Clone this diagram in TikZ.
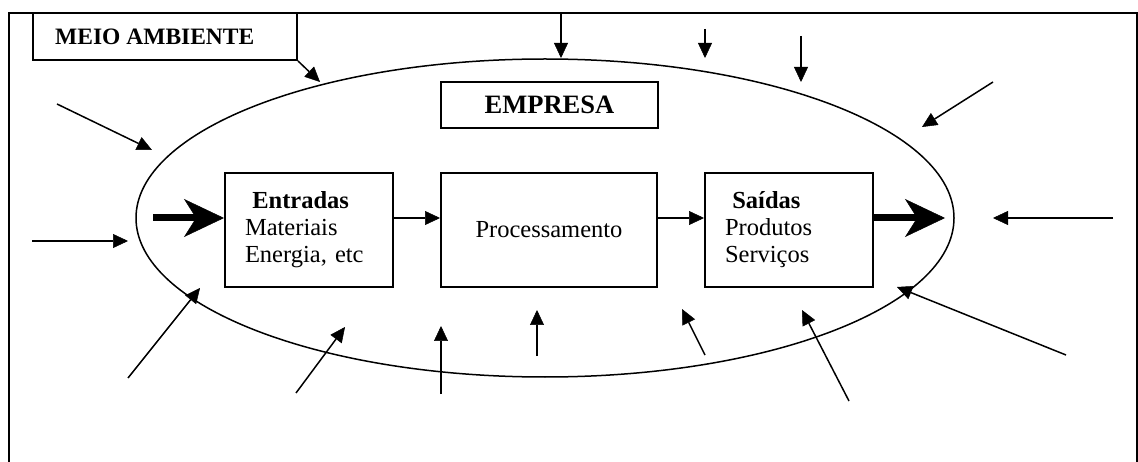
\documentclass[tikz,border=0pt]{standalone}
\usepackage{fontspec}
\setmainfont{Liberation Serif}
\usetikzlibrary{arrows.meta,positioning}

\tikzset{
  seta/.style={-{Triangle[length=15pt,width=14pt,line width=0.5pt]},line width=1.5pt},
  setagrossa/.style={-{Stealth[length=40pt,width=38pt,inset=12pt,line width=0.5pt]},line width=7pt},
  caixa/.style={draw,line width=2pt,inner sep=0pt},
  bloco/.style={caixa,minimum height=114pt,inner xsep=20pt,align=left,
    font=\fontsize{24.5}{27}\selectfont},
}

\begin{document}
\begin{tikzpicture}[x=1pt,y=-1pt]
\useasboundingbox (0,0) rectangle (1138,462);

% Frame
\draw[line width=2pt] (9,475) -- (9,13) -- (1137,13) -- (1137,475);

% Node: meio ambiente
\node[caixa,minimum width=264pt,minimum height=47pt] (meio) at (165,36.5) {};
\node[anchor=west,inner sep=0pt,font=\fontsize{23.5}{27}\selectfont\bfseries] (meiotxt) at (55,37) {MEIO AMBIENTE};

% Node: empresa (ellipse)
\draw[line width=1.5pt] (545,218) ellipse (409 and 159);
\node[caixa,minimum width=217pt,minimum height=46pt,font=\fontsize{26.5}{30}\selectfont\bfseries]
  (empresa) at (549.5,105) {EMPRESA};

% Nodes: blocks
\node[bloco,text width=128pt] (entradas) at (309,230)
  {\hspace*{0.3em}\textbf{Entradas}\\Materiais\\Energia, etc};
\node[bloco,minimum width=216pt,align=center] (proc) at (549,230) {Processamento};
\node[bloco,text width=128pt] (saidas) at (789,230)
  {\hspace*{0.3em}\textbf{Saídas}\\Produtos\\Serviços};

% Edge: entradas -> proc -> saidas
\draw[seta] ([yshift=12pt]entradas.east) -- ([yshift=12pt]proc.west);
\draw[seta] ([yshift=12pt]proc.east) -- ([yshift=12pt]saidas.west);

% Edge: in and out of the company
\coordinate (ini) at (153,218);
\coordinate (fim) at (945,218);
\draw[setagrossa] (ini) -- ([yshift=12pt]entradas.west);
\draw[setagrossa] ([yshift=12pt]saidas.east) -- (fim);

% Edge: meio -> ellipse
\coordinate (m0) at (320,82);
\draw[seta] (meio.south east) -- (m0);

% Edge: environment -> ellipse (top)
\coordinate (a1) at (561,13);   \coordinate (b1) at (561,58);
\coordinate (a2) at (705,29);   \coordinate (b2) at (705,58);
\coordinate (a3) at (801,36);   \coordinate (b3) at (801,82);
\coordinate (a4) at (993,82);   \coordinate (b4) at (922,127);
\draw[seta] (a1) -- (b1);
\draw[seta] (a2) -- (b2);
\draw[seta] (a3) -- (b3);
\draw[seta] (a4) -- (b4);

% Edge: environment -> ellipse (right)
\coordinate (a5) at (1113,218); \coordinate (b5) at (993,218);
\coordinate (a6) at (1066,355); \coordinate (b6) at (897,287);
\draw[seta] (a5) -- (b5);
\draw[seta] (a6) -- (b6);

% Edge: environment -> ellipse (bottom)
\coordinate (a7) at (849,401);  \coordinate (b7) at (802,310);
\coordinate (a8) at (705,355);  \coordinate (b8) at (682,309);
\coordinate (a9) at (537,356);  \coordinate (b9) at (537,310);
\coordinate (a10) at (441,394); \coordinate (b10) at (441,326);
\coordinate (a11) at (296,393); \coordinate (b11) at (345,327);
\coordinate (a12) at (128,378); \coordinate (b12) at (200,288);
\draw[seta] (a7) -- (b7);
\draw[seta] (a8) -- (b8);
\draw[seta] (a9) -- (b9);
\draw[seta] (a10) -- (b10);
\draw[seta] (a11) -- (b11);
\draw[seta] (a12) -- (b12);

% Edge: environment -> ellipse (left)
\coordinate (a13) at (32,241);  \coordinate (b13) at (128,241);
\coordinate (a14) at (57,104);  \coordinate (b14) at (152,150);
\draw[seta] (a13) -- (b13);
\draw[seta] (a14) -- (b14);
%
\end{tikzpicture}
\end{document}
